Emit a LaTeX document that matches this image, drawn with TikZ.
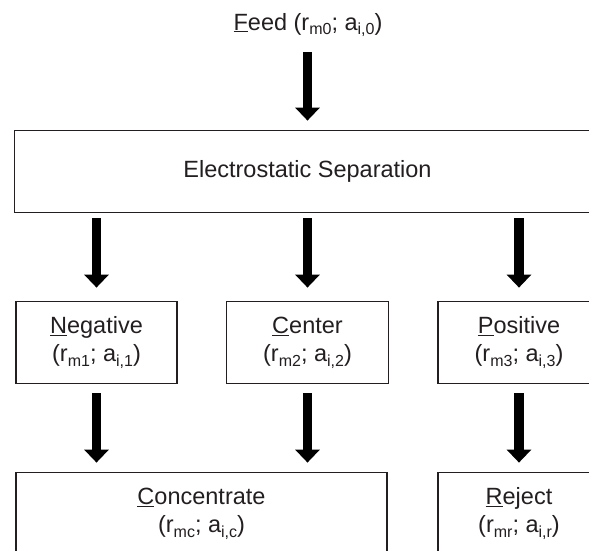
\documentclass[tikz,border=0pt]{standalone}
\usepackage{fontspec}
\setmainfont{Liberation Sans}
\usetikzlibrary{arrows.meta}
\definecolor{ink}{RGB}{35,31,32}
\newcommand{\lsub}[1]{\raisebox{-0.2em}{\fontsize{16}{16}\selectfont #1}}
\newcommand{\ulfirst}[1]{\underline{#1}}
\begin{document}
\begin{tikzpicture}[x=1pt,y=-1pt,
  txt/.style={text=ink, font=\fontsize{23.5}{28}\selectfont, align=center, inner sep=0pt},
  box/.style={txt, draw=ink, line width=1.8pt, minimum height=82pt},
  bigarrow/.style={draw=black, line width=9.5pt, -{Triangle[width=24pt,length=13pt]}}]
\useasboundingbox (0,0) rectangle (589,550);
\fill[white] (0,0) rectangle (589,550);
\clip (0,0) rectangle (589,550);
% nodes
\node[txt, anchor=base] (feed) at (308,30) {\ulfirst{F}eed (r\lsub{m0}; a\lsub{i,0})};
\node[box, minimum width=586pt] (es) at (307.5,171.5) {Electrostatic Separation};
\node[box, minimum width=161pt] (neg) at (96.5,342.5) {\ulfirst{N}egative\\(r\lsub{m1}; a\lsub{i,1})};
\node[box, minimum width=162pt] (cen) at (307.5,342.5) {\ulfirst{C}enter\\(r\lsub{m2}; a\lsub{i,2})};
\node[box, minimum width=162pt] (pos) at (519,342.5) {\ulfirst{P}ositive\\(r\lsub{m3}; a\lsub{i,3})};
\node[box, minimum width=371pt] (con) at (201.5,513.5) {\ulfirst{C}oncentrate\\(r\lsub{mc}; a\lsub{i,c})};
\node[box, minimum width=162pt] (rej) at (519,513.5) {\ulfirst{R}eject\\(r\lsub{mr}; a\lsub{i,r})};
% arrows
\draw[bigarrow, shorten <=15pt, shorten >=9pt] (feed.south -| es.north) -- (es.north);
\draw[bigarrow, shorten <=5pt, shorten >=13pt] (es.south -| neg.north) -- (neg.north);
\draw[bigarrow, shorten <=5pt, shorten >=13pt] (es.south -| cen.north) -- (cen.north);
\draw[bigarrow, shorten <=5pt, shorten >=13pt] (es.south -| pos.north) -- (pos.north);
\draw[bigarrow, shorten <=9pt, shorten >=9pt] (neg.south) -- (neg.south |- con.north);
\draw[bigarrow, shorten <=9pt, shorten >=9pt] (cen.south) -- (cen.south |- con.north);
\draw[bigarrow, shorten <=9pt, shorten >=9pt] (pos.south) -- (rej.north);
\end{tikzpicture}
\end{document}
